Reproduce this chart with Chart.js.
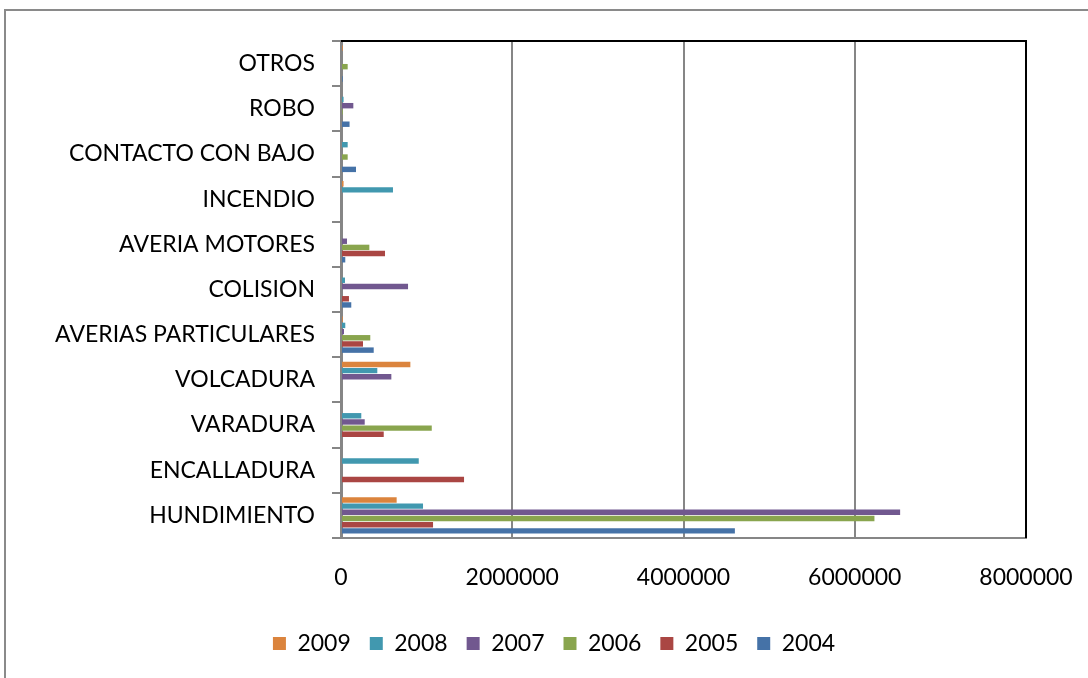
<!DOCTYPE html>
<html>
<head>
<meta charset="utf-8">
<script src="https://cdn.jsdelivr.net/npm/chart.js@4.4.1/dist/chart.umd.min.js"></script>
<style>
  html, body { margin: 0; padding: 0; background: #ffffff; }
  #wrap { width: 1088px; height: 678px; position: relative; }
</style>
</head>
<body>
<div id="wrap"><canvas id="myChart" width="1088" height="678"></canvas></div>
<script>
// categories, top to bottom as drawn
const categories = ["OTROS", "ROBO", "CONTACTO CON BAJO", "INCENDIO", "AVERIA MOTORES",
                    "COLISION", "AVERIAS PARTICULARES", "VOLCADURA", "VARADURA",
                    "ENCALLADURA", "HUNDIMIENTO"];

// values, same order as categories
const v2009 = [20000, 0, 0, 30000, 0, 0, 20000, 810000, 0, 0, 650000];
const v2008 = [0, 30000, 78000, 607000, 0, 47000, 50000, 424000, 237000, 908000, 958000];
const v2007 = [0, 144000, 0, 0, 70000, 783000, 35000, 588000, 277000, 0, 6530000];
const v2006 = [78000, 20000, 78000, 0, 331000, 0, 342000, 0, 1060000, 0, 6230000];
const v2005 = [0, 0, 0, 0, 514000, 93000, 257000, 0, 499000, 1437000, 1075000];
const v2004 = [20000, 100000, 175000, 0, 50000, 120000, 382000, 0, 0, 0, 4600000];

const xTicks = [0, 2000000, 4000000, 6000000, 8000000];

const FONT = "Lato, 'Open Sans', sans-serif";

function makeSet(label, data, color) {
    return {
        label: label,
        data: data,
        backgroundColor: color,
        borderWidth: 0,
        categoryPercentage: 0.82,
        barPercentage: 0.88
    };
}

// frame round the whole figure plus black top/right edge of the plot
const framePlugin = {
    id: 'frame',
    afterLayout(chart) {
        // legend sits a bit right of centre in the original
        chart.legend.left += 41;
        chart.legend.right += 41;
    },
    afterDraw(chart) {
        const ctx = chart.ctx;
        const a = chart.chartArea;
        ctx.save();
        ctx.strokeStyle = '#8a8a8a';
        ctx.lineWidth = 2;
        ctx.beginPath();
        ctx.moveTo(5, 678);
        ctx.lineTo(5, 10);
        ctx.lineTo(1088, 10);
        ctx.stroke();
        ctx.strokeStyle = '#000000';
        ctx.lineWidth = 2;
        ctx.beginPath();
        ctx.moveTo(a.left, a.top);
        ctx.lineTo(a.right, a.top);
        ctx.lineTo(a.right, a.bottom);
        ctx.stroke();
        ctx.restore();
    }
};

document.addEventListener('DOMContentLoaded', function() {
    const ctx = document.getElementById("myChart");
    new Chart(ctx, {
        type: 'bar',
        data: {
            labels: categories,
            datasets: [
                makeSet("2009", v2009, "#DB843D"),
                makeSet("2008", v2008, "#4198AF"),
                makeSet("2007", v2007, "#71588F"),
                makeSet("2006", v2006, "#89A54E"),
                makeSet("2005", v2005, "#AA4643"),
                makeSet("2004", v2004, "#4572A7")
            ]
        },
        options: {
            indexAxis: 'y',
            responsive: false,
            animation: false,
            layout: { padding: { top: 41, right: 62, left: 0, bottom: 13 } },
            scales: {
                x: {
                    min: 0,
                    max: 8000000,
                    afterBuildTicks: (axis) => { axis.ticks = xTicks.map(v => ({ value: v })); },
                    ticks: {
                        color: '#000',
                        font: { family: FONT, size: 23 },
                        padding: 26,
                        callback: (v) => String(v)
                    },
                    grid: { color: '#868686', lineWidth: 2, drawTicks: false },
                    border: { display: true, color: '#868686', width: 2 },
                    afterFit: (axis) => {
                        axis.height = 75;
                        axis.paddingLeft = 0;
                        axis.paddingRight = 0;
                    }
                },
                y: {
                    ticks: {
                        color: '#000',
                        font: { family: FONT, size: 23 },
                        padding: 17
                    },
                    grid: { drawOnChartArea: false, drawTicks: true, tickLength: 9,
                            color: '#868686', lineWidth: 2 },
                    border: { display: true, color: '#868686', width: 3 },
                    afterFit: (axis) => { axis.width = 341; }
                }
            },
            plugins: {
                legend: {
                    position: 'bottom',
                    labels: {
                        color: '#000',
                        font: { family: FONT, size: 23 },
                        boxWidth: 13,
                        boxHeight: 13,
                        padding: 19
                    }
                },
                tooltip: { enabled: false }
            }
        },
        plugins: [framePlugin]
    });
});
</script>
</body>
</html>
